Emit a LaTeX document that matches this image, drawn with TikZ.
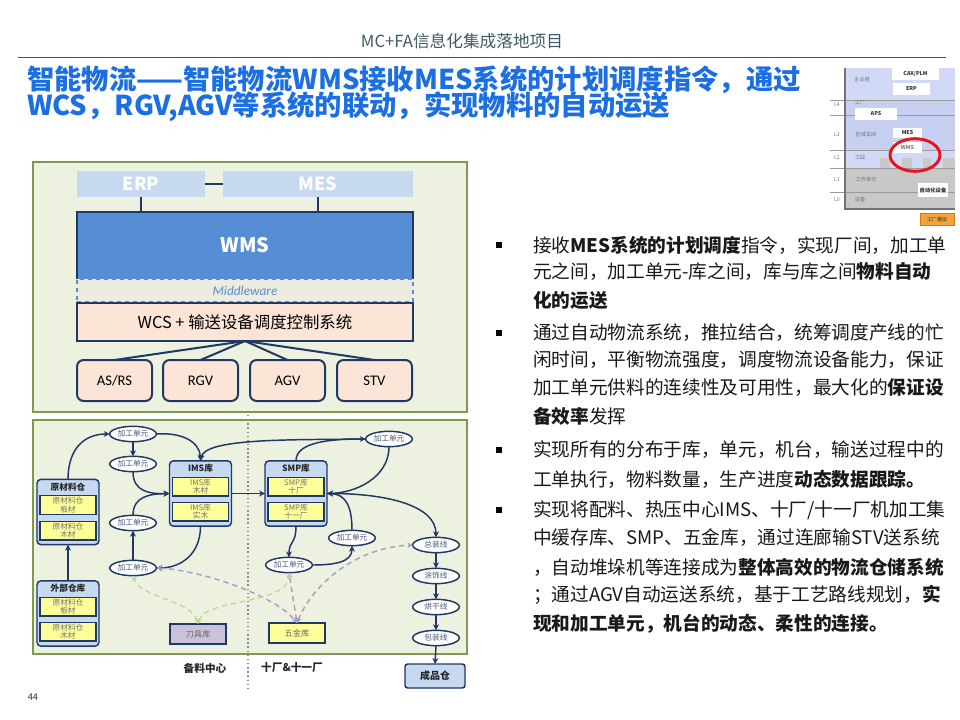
\documentclass[tikz,border=0pt]{standalone}
\usepackage{fontspec}
\setmainfont{Noto Sans CJK SC}
\newfontfamily\carlito{Carlito}
\usetikzlibrary{arrows.meta,shapes.geometric}
\definecolor{navy}{HTML}{1F3864}
\definecolor{hdrc}{HTML}{3E5A68}
\definecolor{hlinec}{HTML}{2F5F6F}
\definecolor{ttlc}{HTML}{1B6FE3}
\definecolor{olivec}{HTML}{7E9A4E}
\definecolor{panelc}{HTML}{EDF2E0}
\definecolor{lbluec}{HTML}{C6D9F0}
\definecolor{wmsc}{HTML}{558ED5}
\definecolor{midc}{HTML}{ECEBE0}
\definecolor{midtc}{HTML}{5B8BD0}
\definecolor{peachc}{HTML}{FCE4D6}
\definecolor{boxbc}{HTML}{C6D9F1}
\definecolor{ylwc}{HTML}{FFFF99}
\definecolor{lavc}{HTML}{CCC1DA}
\definecolor{dlavc}{HTML}{A99DC9}
\definecolor{dgrnc}{HTML}{C5D89A}
\definecolor{ellt}{HTML}{4A5A7A}
\definecolor{thlav}{HTML}{D2D9F7}
\definecolor{thlav2}{HTML}{C8D0F2}
\definecolor{thgray}{HTML}{C8C8C8}
\definecolor{thline}{HTML}{9A9A9A}
\definecolor{orgc}{HTML}{F4A23B}
\definecolor{orgd}{HTML}{D07A1A}
\definecolor{redc}{HTML}{E8141C}
\begin{document}
\begin{tikzpicture}[x=0.75pt,y=-0.75pt,
  every node/.style={inner sep=0pt,outer sep=0pt},
  hdr/.style={font=\fontsize{12.5}{14}\selectfont, text=hdrc},
  ttl/.style={font=\fontsize{20.5}{24}\selectfont\bfseries, text=ttlc, anchor=west},
  bl/.style={font=\fontsize{14}{16}\selectfont, text=black!90, anchor=west},
  bsq/.style={fill=black, minimum size=4pt},
  panel/.style={draw=olivec, line width=1.5pt, fill=panelc},
  sysbar/.style={fill=lbluec, text=white, font=\fontsize{13.5}{15}\selectfont\bfseries, minimum height=19.5pt},
  wmsbox/.style={fill=wmsc, text=white, font=\fontsize{15}{17}\selectfont\bfseries, minimum width=252pt, minimum height=50.25pt},
  midbox/.style={fill=midc, draw=midtc, dashed, line width=1pt, text=midtc, font=\fontsize{10}{12}\selectfont, minimum width=252pt, minimum height=17.25pt},
  wcsbox/.style={fill=peachc, draw=navy, line width=1.5pt, font=\fontsize{12.3}{14}\selectfont, minimum width=252pt, minimum height=28.5pt},
  devbox/.style={fill=peachc, draw=navy, line width=1.5pt, rounded corners=5pt, font=\carlito\fontsize{11}{12}\selectfont, minimum width=56.25pt, minimum height=30.75pt},
  link/.style={draw=navy, line width=1.5pt},
  store/.style={draw=navy, line width=1.1pt, fill=boxbc, rounded corners=3pt, minimum width=46.5pt, minimum height=49pt},
  stitle/.style={font=\fontsize{6.5}{7}\selectfont\bfseries, text=black!85},
  sub/.style={draw=navy, line width=1pt, fill=ylwc, minimum width=42pt, minimum height=14pt, align=center, font=\fontsize{5.8}{6.6}\selectfont, text=black!55},
  ell/.style={ellipse, draw=navy, line width=1.1pt, fill=white, minimum width=35pt, minimum height=11.5pt, font=\fontsize{5.8}{7}\selectfont, text=ellt},
  arr/.style={draw=navy, line width=1.1pt, -{Stealth[length=4.5pt,width=4.5pt]}},
  dlav/.style={draw=dlavc, line width=1.1pt, dash pattern=on 4pt off 3pt, {Stealth[length=4pt,width=4pt]}-{Stealth[length=4pt,width=4pt]}},
  dgrn/.style={draw=dgrnc, line width=1.1pt, dash pattern=on 4pt off 3pt, {Stealth[length=4pt,width=4pt]}-{Stealth[length=4pt,width=4pt]}},
  thtxt/.style={font=\fontsize{3.9}{4}\selectfont, text=black!55},
  thbox/.style={fill=white, font=\fontsize{4}{4.5}\selectfont\bfseries, text=black!80}
]
\useasboundingbox (0,0) rectangle (960,720);
\fill[white] (0,0) rectangle (960,720);

% header
\node[hdr] (header) at (462,41) {MC+FA信息化集成落地项目};
\draw[hlinec, line width=1.2pt] (18,57.5) -- (946,57.5);

% title
\node[ttl] (t1) at (27,80) {智能物流——智能物流WMS接收MES系统的计划调度指令，通过};
\node[ttl] (t2) at (27,107) {WCS，RGV,AGV等系统的联动，实现物料的自动运送};

% thumbnail
\fill[thlav] (845,68) rectangle (955,150);
\fill[thlav2] (845,100) rectangle (955,150);
\fill[thlav] (845,150) rectangle (955,168);
\fill[thgray] (845,168) rectangle (955,209);
\fill[thgray] (880,158) rectangle (890,168);
\fill[thgray] (902,158) rectangle (912,168);
\fill[thgray] (923,158) rectangle (931,168);
\fill[thgray] (943,158) rectangle (955,168);
\foreach \yy in {100,115,150,168,192} \draw[thline, line width=0.5pt] (830,\yy) -- (955,\yy);
\draw[black!55, line width=1pt] (845,68) -- (845,209) -- (955,209);
\node[thtxt] (thq) at (862,80) {企业层};
\node[thtxt] (thgc) at (860,103) {工厂};
\node[thtxt] (thqy) at (866,135) {区域车间};
\node[thtxt] (thgd) at (860,158) {工段};
\node[thtxt] (thgz) at (866,180) {工作单元};
\node[thtxt] (thsb) at (860,200) {设备};
\node[thtxt] (thl4) at (837,105) {L4};
\node[thtxt] (thl3) at (837,135) {L3};
\node[thtxt] (thl2) at (837,158) {L2};
\node[thtxt] (thl1) at (837,180) {L1};
\node[thtxt] (thl0) at (837,200) {L0};
\node[thbox, minimum width=35pt, minimum height=9pt] (thcax) at (915.5,74) {CAX/PLM};
\node[thbox, minimum width=28pt, minimum height=9pt] (therp) at (911.5,89) {ERP};
\node[thbox, minimum width=31pt, minimum height=9pt] (thaps) at (876,114) {APS};
\node[thbox, minimum width=22pt, minimum height=8pt] (thmes) at (907.5,133) {MES};
\node[thbox, minimum width=22pt, minimum height=8pt, text=black!50] (thwms) at (907.5,147.5) {WMS};
\node[thbox, minimum width=23pt, minimum height=10pt] (thzd) at (933,190) {自动化设备};
\node[ellipse, draw=redc, line width=2.2pt, minimum width=37.5pt, minimum height=24.5pt] (thred) at (915,155) {};
\node[fill=orgc, draw=orgd, line width=0.6pt, minimum width=25.5pt, minimum height=8.5pt, font=\fontsize{3.8}{4}\selectfont, text=black!80] (thbtn) at (937,219.5) {工厂模拟};

% ===== top panel =====
\draw[panel] (33,162) rectangle (467,412);
\node[sysbar, minimum width=96pt] (erp) at (141,184) {ERP};
\node[sysbar, minimum width=142.5pt] (mes) at (318,184) {MES};
\node[wmsbox] (wms) at (245,245.5) {WMS};
\draw[link] (wms.south west) -- (wms.north west) -- (wms.north east) -- (wms.south east);
\node[midbox] (mid) at (245,290.5) {\carlito\itshape Middleware};
\node[wcsbox] (wcs) at (245,322) {WCS + 输送设备调度控制系统};
\node[devbox] (asrs) at (114.5,380.5) {AS/RS};
\node[devbox] (rgv) at (200.5,380.5) {RGV};
\node[devbox] (agv) at (287.5,380.5) {AGV};
\node[devbox] (stv) at (374.5,380.5) {STV};
\draw[link] (erp.east) -- (mes.west);
\draw[link] (erp.south) -- (erp.south |- wms.north);
\draw[link] (mes.south) -- (mes.south |- wms.north);
\draw[link] (wcs.south) -- (asrs.north);
\draw[link] (wcs.south) -- (rgv.north);
\draw[link] (wcs.south) -- (agv.north);
\draw[link] (wcs.south) -- (stv.north);

% ===== bottom panel =====
\draw[panel] (33,420) rectangle (467,654);
\draw[black!45, dotted, line width=1.1pt] (248,415) -- (248,688);

\node[store] (ycl) at (68,512) {};
\node[stitle] (yclt) at (68,487) {原材料仓};
\node[sub] (ycl1) at (68,505) {原材料仓\\板材};
\node[sub] (ycl2) at (68,530.5) {原材料仓\\木材};

\node[store] (wbk) at (68,613.5) {};
\node[stitle] (wbkt) at (68,588.5) {外部仓库};
\node[sub] (wbk1) at (68,606.5) {原材料仓\\板材};
\node[sub] (wbk2) at (68,631.5) {原材料仓\\木材};

\node[store] (ims) at (200.5,493.5) {};
\node[stitle] (imst) at (200.5,468.5) {IMS库};
\node[sub] (ims1) at (200.5,486.5) {IMS库\\木材};
\node[sub] (ims2) at (200.5,511.5) {IMS库\\实木};

\node[store] (smp) at (296,493.5) {};
\node[stitle] (smpt) at (296,468.5) {SMP库};
\node[sub] (smp1) at (296,486.5) {SMP库\\十厂};
\node[sub] (smp2) at (296,511.5) {SMP库\\十一厂};

\node[draw=navy, line width=1.1pt, fill=lavc, minimum width=42pt, minimum height=15pt, font=\fontsize{6.2}{7}\selectfont, text=black!60] (dj) at (198,634) {刀具库};
\node[draw=navy, line width=1.1pt, fill=ylwc, minimum width=42pt, minimum height=15pt, font=\fontsize{6.2}{7}\selectfont, text=black!60] (wj) at (297,633) {五金库};
\node[draw=navy, line width=1.1pt, fill=boxbc, rounded corners=2pt, minimum width=45pt, minimum height=18pt, font=\fontsize{7.5}{8}\selectfont\bfseries, text=black!85] (cpc) at (435,676) {成品仓};

\node[ell] (a1) at (133,434) {加工单元};
\node[ell] (a2) at (133,464) {加工单元};
\node[ell] (a3) at (133,523) {加工单元};
\node[ell] (a4) at (133,568) {加工单元};
\node[ell] (a5) at (389,439) {加工单元};
\node[ell] (a6) at (352,538) {加工单元};
\node[ell] (a7) at (289,565) {加工单元};
\node[ell] (zz) at (436,545) {总装线};
\node[ell] (ts) at (436,576) {涂饰线};
\node[ell] (hg) at (436,607) {烘干线};
\node[ell] (bz) at (436,638) {包装线};

% solid connectors
\draw[arr] (ycl.north) .. controls (68,448) and (85,434) .. (a1.west);
\draw[arr] (a1.south) -- (a2.north);
\draw[arr] (a1.east) .. controls (182,432) and (200,442) .. (ims.north);
\draw[arr] (a5.west) .. controls (290,440) and (205,438) .. (ims.north);
\draw[arr] (a2.south) .. controls (133,492) and (150,494) .. (ims.west);
\draw[arr] (a3.north) .. controls (133,496) and (150,494) .. (ims.west);
\draw[arr] (a4.north) -- (a3.south);
\draw[arr] (wbk.north) -- (ycl.south);
\draw[arr] (ims.south) .. controls (200.5,555) and (180,568) .. (a4.east);
\draw[arr] (ims.east) -- (smp.west);
\draw[arr] (smp.north) .. controls (296,442) and (330,439) .. (a5.west);
\draw[arr] (a5.south) .. controls (389,478) and (355,493) .. (smp.east);
\draw[arr] (a6.north) .. controls (352,505) and (345,494) .. (smp.east);
\draw[arr] (smp.east) .. controls (385,493) and (436,505) .. (zz.north);
\draw[arr] (smp.south) .. controls (296,545) and (289,540) .. (a7.north);
\draw[arr] (a7.east) .. controls (335,565) and (352,562) .. (a6.south);
\draw[arr] (zz.south) -- (ts.north);
\draw[arr] (ts.south) -- (hg.north);
\draw[arr] (hg.south) -- (bz.north);
\draw[arr] (bz.south) -- (cpc.north);

% dashed connectors
\draw[dlav] (a4.east) .. controls (200,570) and (275,595) .. (wj.north);
\draw[dlav] (wj.north) .. controls (310,590) and (350,548) .. (zz.west);
\draw[dlav] (wj.north) -- (a7.south);
\draw[dgrn] (dj.north) .. controls (192,600) and (140,598) .. (a4.south);
\draw[dgrn] (dj.north) .. controls (205,598) and (289,605) .. (a7.south);

\node[font=\fontsize{8}{9}\selectfont\bfseries, text=black!85] (blzx) at (205,668) {备料中心};
\node[font=\fontsize{8}{9}\selectfont\bfseries, text=black!85] (scl) at (292,667) {十厂\&十一厂};

% page number
\node[font=\fontsize{7}{8}\selectfont, text=black!80] (pg) at (33,697) {44};

% bullets
\node[bsq] (b1) at (499,245) {};
\node[bsq] (b2) at (499,333) {};
\node[bsq] (b3) at (499,450) {};
\node[bsq] (b4) at (499,510) {};
\node[bl] (l11) at (533,245) {接收\textbf{MES系统的计划调度}指令，实现厂间，加工单};
\node[bl] (l12) at (533,272) {元之间，加工单元-库之间，库与库之间\textbf{物料自动}};
\node[bl] (l13) at (533,300) {\textbf{化的运送}};
\node[bl] (l21) at (533,333) {通过自动物流系统，推拉结合，统筹调度产线的忙};
\node[bl] (l22) at (533,360) {闲时间，平衡物流强度，调度物流设备能力，保证};
\node[bl] (l23) at (533,388) {加工单元供料的连续性及可用性，最大化的\textbf{保证设}};
\node[bl] (l24) at (533,416.5) {\textbf{备效率}发挥};
\node[bl] (l31) at (533,450) {实现所有的分布于库，单元，机台，输送过程中的};
\node[bl] (l32) at (533,479) {工单执行，物料数量，生产进度\textbf{动态数据跟踪。}};
\node[bl] (l41) at (533,510) {实现将配料、热压中心IMS、十厂/十一厂机加工集};
\node[bl] (l42) at (533,538) {中缓存库、SMP、五金库，通过连廊输STV送系统};
\node[bl] (l43) at (533,567) {，自动堆垛机等连接成为\textbf{整体高效的物流仓储系统}};
\node[bl] (l44) at (533,595) {；通过AGV自动运送系统，基于工艺路线规划，\textbf{实}};
\node[bl] (l45) at (533,624) {\textbf{现和加工单元，机台的动态、柔性的连接。}};
\end{tikzpicture}
\end{document}
